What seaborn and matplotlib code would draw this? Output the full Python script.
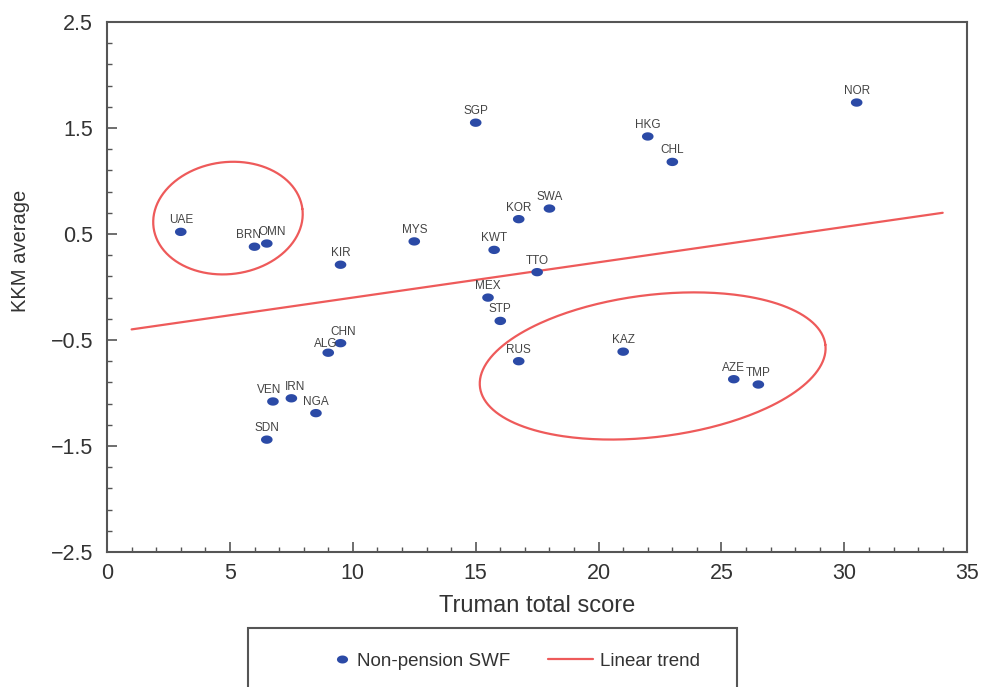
import numpy as np
import pandas as pd
import matplotlib
matplotlib.use("Agg")
import matplotlib.pyplot as plt
import seaborn as sns
from matplotlib.patches import Rectangle
from matplotlib.lines import Line2D
from matplotlib.ticker import MultipleLocator, FixedLocator

# ==========================================
# Data
# ==========================================

countries = ["NOR", "SGP", "HKG", "CHL", "SWA", "KOR", "MYS", "KWT", "KIR",
             "TTO", "MEX", "STP", "CHN", "ALG", "RUS", "KAZ", "AZE", "TMP",
             "VEN", "IRN", "NGA", "SDN", "UAE", "BRN", "OMN"]
truman_score = [30.5, 15.0, 22.0, 23.0, 18.0, 16.75, 12.5, 15.75, 9.5,
                17.5, 15.5, 16.0, 9.5, 9.0, 16.75, 21.0, 25.5, 26.5,
                6.75, 7.5, 8.5, 6.5, 3.0, 6.0, 6.5]
kkm_average = [1.74, 1.55, 1.42, 1.18, 0.74, 0.64, 0.43, 0.35, 0.21,
               0.14, -0.10, -0.32, -0.53, -0.62, -0.70, -0.61, -0.87, -0.92,
               -1.08, -1.05, -1.19, -1.44, 0.52, 0.38, 0.41]

trend_x = [1, 34]
trend_y = [-0.40, 0.70]

# ellipses: center (data), semi axes (px), angle (deg)
ellipses = [
    ((4.92, 0.65), 75, 56, 7),
    ((22.2, -0.745), 174, 71, 7),
]

# small label nudges (points) where labels crowd
label_shift = {"BRN": (-4, 0), "OMN": (4, 0), "CHN": (2, 0), "ALG": (-2, -2),
               "VEN": (-3, 0), "IRN": (3, 0)}

data = pd.DataFrame({"country": countries, "truman": truman_score, "kkm": kkm_average})

# ==========================================
# Plot
# ==========================================

sns.set_style("white")
plt.rcParams["font.family"] = ["Liberation Sans", "DejaVu Sans"]

fig = plt.figure(figsize=(9.82, 6.87), dpi=100)
ax = fig.add_axes([0.109, 0.1965, 0.876, 0.7715])

text_color = "#333333"
dot_color = "#2b4aa6"
red = "#ee5a5a"

# slightly flattened dot marker
tt = np.linspace(0, 2 * np.pi, 40)
dot_marker = np.column_stack([np.cos(tt), 0.72 * np.sin(tt)])

sns.lineplot(x=trend_x, y=trend_y, ax=ax, color=red, linewidth=1.6, zorder=2)
sns.scatterplot(data=data, x="truman", y="kkm", ax=ax, color=dot_color,
                s=70, marker=dot_marker, edgecolor="none", zorder=3)

for _, row in data.iterrows():
    ox, oy = label_shift.get(row["country"], (0, 0))
    ax.annotate(row["country"], (row["truman"], row["kkm"]),
                xytext=(ox, 4 + oy), textcoords="offset points",
                ha="center", va="bottom", fontsize=8.5, color="#444444")

ax.set_xlim(0, 35)
ax.set_ylim(-2.5, 2.5)

# ellipses drawn in pixel-proportional space
fig_w, fig_h = fig.get_size_inches() * fig.dpi
pos = ax.get_position()
sx = pos.width * fig_w / 35.0
sy = pos.height * fig_h / 5.0
t = np.linspace(0, 2 * np.pi, 300)
for (cx, cy), a, b, ang in ellipses:
    th = np.deg2rad(ang)
    dx = a * np.cos(t) * np.cos(th) - b * np.sin(t) * np.sin(th)
    dy = a * np.cos(t) * np.sin(th) + b * np.sin(t) * np.cos(th)
    ax.plot(cx + dx / sx, cy + dy / sy, color=red, linewidth=1.6, zorder=2)

ax.xaxis.set_major_locator(MultipleLocator(5))
ax.xaxis.set_minor_locator(MultipleLocator(1))
ax.yaxis.set_major_locator(FixedLocator([-2.5, -1.5, -0.5, 0.5, 1.5, 2.5]))
ax.yaxis.set_minor_locator(MultipleLocator(0.2, offset=0.1))
ax.yaxis.set_major_formatter(plt.FuncFormatter(lambda v, p: f"{v:.1f}".replace("-", "\u2212")))

ax.tick_params(axis="both", which="both", bottom=True, left=True, top=False, right=False)
ax.tick_params(axis="both", which="major", direction="in", length=7, width=1.2,
               colors="#555555", labelcolor=text_color, labelsize=15.5)
ax.tick_params(axis="both", which="minor", direction="in", length=3.5, width=1.0,
               colors="#555555")
ax.tick_params(axis="x", which="major", pad=8)
ax.tick_params(axis="y", which="major", pad=10)

for side in ax.spines.values():
    side.set_color("#555555")
    side.set_linewidth(1.5)

ax.set_xlabel("Truman total score", fontsize=17, color=text_color, labelpad=8)
ax.set_ylabel("KKM average", fontsize=14.5, color=text_color)
ax.yaxis.set_label_coords(-0.089, 0.568)

# ==========================================
# Legend
# ==========================================

dot_handle = Line2D([], [], linestyle="none", marker=dot_marker, markersize=8,
                    color=dot_color, markeredgewidth=0)
line_handle = Line2D([], [], color=red, linewidth=1.6)

leg1 = fig.legend([dot_handle], ["Non-pension SWF"], loc="center left",
                  bbox_to_anchor=(333 / 982, 1 - 661 / 687), frameon=False,
                  fontsize=13.5, handlelength=1.0, handletextpad=0.3,
                  labelcolor=text_color, borderpad=0, borderaxespad=0)
leg2 = fig.legend([line_handle], ["Linear trend"], loc="center left",
                  bbox_to_anchor=(548 / 982, 1 - 661 / 687), frameon=False,
                  fontsize=13.5, handlelength=2.4, handletextpad=0.35,
                  labelcolor=text_color, borderpad=0, borderaxespad=0)

fig.patches.append(Rectangle((248 / 982, -0.05), (737 - 248) / 982, 0.05 + 1 - 628 / 687,
                             transform=fig.transFigure, fill=False,
                             edgecolor="#555555", linewidth=1.5))

fig.savefig("out.png", dpi=100)
